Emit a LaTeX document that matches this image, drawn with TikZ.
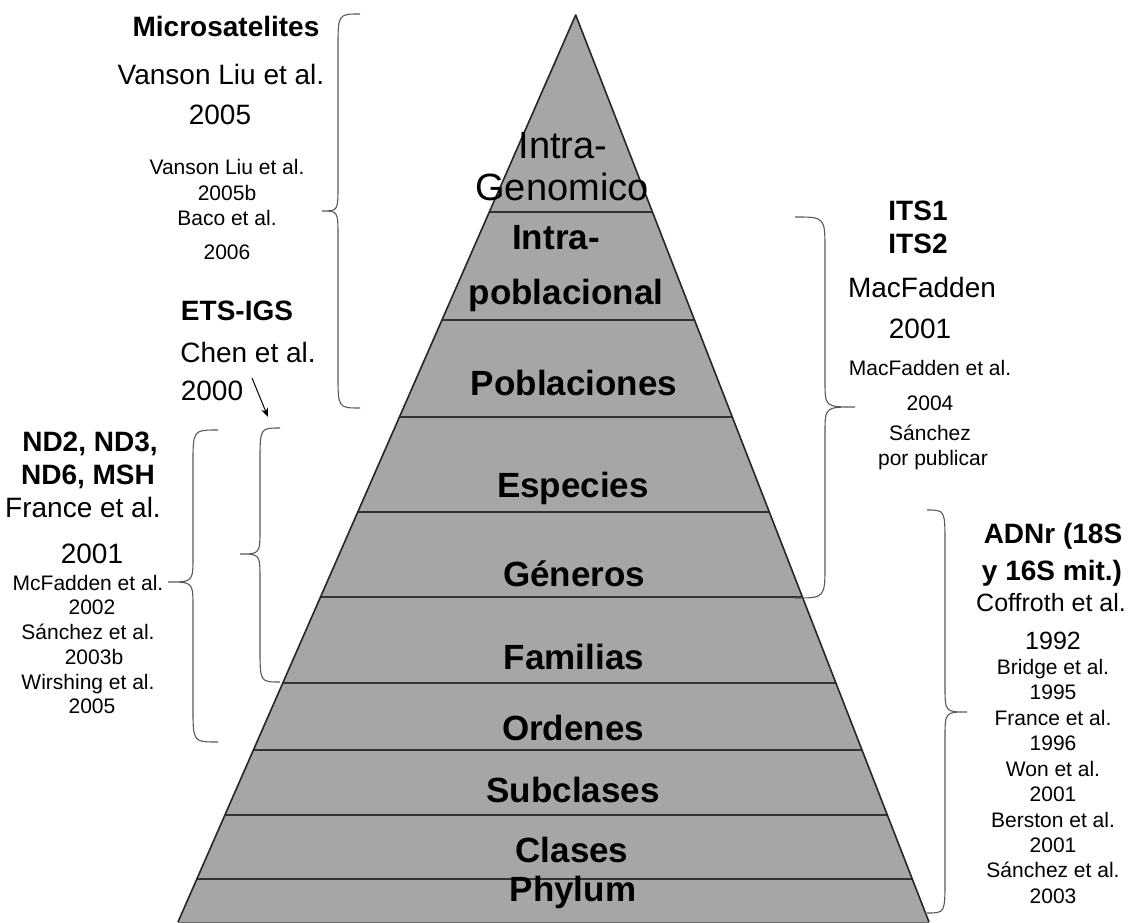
\documentclass[tikz,border=0pt]{standalone}
\usepackage{fontspec}
\setmainfont{Liberation Sans}
\usetikzlibrary{calc,arrows.meta}
\newcommand\mybrace[6]{% xe xs xt yt ym yb
  \draw[brace] (#1,#4) .. controls (#2,#4) .. (#2,#4+34) -- (#2,#5-26)
    .. controls (#2,#5) .. (#3,#5) .. controls (#2,#5) .. (#2,#5+26)
    -- (#2,#6-34) .. controls (#2,#6) .. (#1,#6);}
\begin{document}
\begin{tikzpicture}[x=1pt,y=-1pt,
  every node/.style={inner sep=0pt, outer sep=0pt},
  lev/.style={font=\bfseries\fontsize{35}{35}\selectfont, text height=25pt, text depth=0pt},
  levr/.style={font=\fontsize{38}{38}\selectfont, text height=27pt, text depth=0pt},
  head/.style={font=\bfseries\fontsize{28}{28}\selectfont, text height=20pt, text depth=0pt},
  cite/.style={font=\fontsize{28}{28}\selectfont, text height=20pt, text depth=0pt},
  citem/.style={font=\fontsize{25}{25}\selectfont, text height=18pt, text depth=0pt},
  small/.style={font=\fontsize{21}{21}\selectfont, text height=15pt, text depth=0pt},
  lvl/.style={line width=2.5pt, draw=black!80},
  edge/.style={line width=1.6pt, draw=black!85, line join=round},
  brace/.style={line width=1.1pt, draw=black!65},
  pfill/.style={fill=black!35},
  arr/.style={line width=1pt, -{Stealth[length=9pt,width=7pt]}},
]
\useasboundingbox (0,0) rectangle (1130,923);
\fill[white] (0,0) rectangle (1130,923);
% pyramid
\coordinate (A) at (575.7,15);
\coordinate (BL) at (178,922);
\coordinate (BR) at (929,922);
\fill[pfill] (A) -- (BL) -- (BR) -- cycle;
\foreach \t in {0.2172,0.3363,0.4432,0.5480,0.6417,0.7365,0.8104,0.8820,0.9526}
  \draw[lvl] ($(A)!\t!(BL)$) -- ($(A)!\t!(BR)$);
\draw[edge] (BL) -- (A) -- (BR);
\draw[line width=1pt, draw=black!60] (BL) -- (BR);
% level labels
\node[levr] (ig1) at (563,145) {Intra-};
\node[levr] (ig2) at (562,187) {Genomico};
\node[lev] (ip1) at (556,237) {Intra-};
\node[lev] (ip2) at (566,292) {poblacional};
\node[lev] (pob) at (574,383) {Poblaciones};
\node[lev] (esp) at (573,485) {Especies};
\node[lev] (gen) at (574,574) {Géneros};
\node[lev] (fam) at (574,657) {Familias};
\node[lev] (ord) at (573,728) {Ordenes};
\node[lev] (sub) at (573,790) {Subclases};
\node[lev] (cla) at (572,850) {Clases};
\node[lev] (phy) at (573,889) {Phylum};
% braces
\mybrace{360}{338}{322}{14}{211}{408}
\mybrace{218}{193}{168}{430}{582}{742}
\mybrace{280}{260}{240}{428}{554}{682}
\mybrace{795}{825}{855}{217}{407}{598}
\mybrace{927}{945}{967}{510}{712}{913}
% top-left block
\node[head] (mic) at (226,27) {Microsatelites};
\node[cite] (vl1) at (221,75) {Vanson Liu et al.};
\node[cite] (y2005) at (220,115) {2005};
\node[small] (vl2) at (227,167) {Vanson Liu et al.};
\node[small] (y2005b) at (227,193) {2005b};
\node[small] (baco) at (227,218) {Baco et al.};
\node[small] (y2006) at (227,252) {2006};
\node[head] (ets) at (237,310) {ETS-IGS};
\node[cite] (chen) at (248,352) {Chen et al.};
\node[cite] (y2000) at (212,390) {2000};
\coordinate (arrS) at (252,378);
\coordinate (arrE) at (268,417);
\draw[arr] (arrS) -- (arrE);
% lower-left block
\node[head] (nd1) at (90,441) {ND2, ND3,};
\node[head] (nd2) at (88,474) {ND6, MSH};
\node[cite] (fr) at (83,507) {France et al.};
\node[cite] (y2001a) at (92,553) {2001};
\node[small] (mcf) at (88,583) {McFadden et al.};
\node[small] (y2002) at (92,607) {2002};
\node[small] (san1) at (88,632) {Sánchez et al.};
\node[small] (y2003b) at (94,657) {2003b};
\node[small] (wir) at (88,682) {Wirshing et al.};
\node[small] (y2005c) at (92,706) {2005};
% ITS block
\node[head] (its1) at (918,210) {ITS1};
\node[head] (its2) at (918,243) {ITS2};
\node[cite] (macf) at (922,287) {MacFadden};
\node[cite] (y2001b) at (920,328) {2001};
\node[small] (macf2) at (930,368) {MacFadden et al.};
\node[small] (y2004) at (930,403) {2004};
\node[small] (san2) at (930,433) {Sánchez};
\node[small] (pp) at (933,458) {por publicar};
% ADNr block
\node[head] (adn1) at (1053,533) {ADNr (18S};
\node[head] (adn2) at (1052,570) {y 16S mit.)};
\node[citem] (cof) at (1051,602) {Coffroth et al.};
\node[citem] (y1992) at (1053,640) {1992};
\node[small] (bri) at (1053,667) {Bridge et al.};
\node[small] (y1995) at (1053,692) {1995};
\node[small] (fr2) at (1053,718) {France et al.};
\node[small] (y1996) at (1053,743) {1996};
\node[small] (won) at (1053,769) {Won et al.};
\node[small] (y2001c) at (1053,794) {2001};
\node[small] (ber) at (1053,820) {Berston et al.};
\node[small] (y2001d) at (1053,845) {2001};
\node[small] (san3) at (1053,870) {Sánchez et al.};
\node[small] (y2003) at (1053,896) {2003};
\end{tikzpicture}
\end{document}
